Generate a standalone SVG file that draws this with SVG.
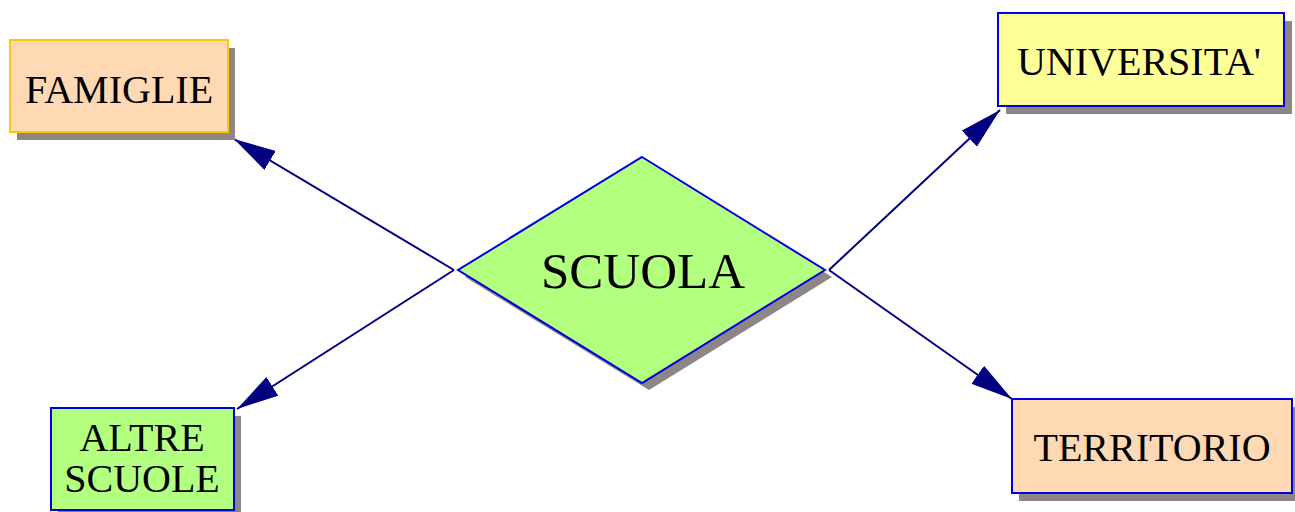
<svg xmlns="http://www.w3.org/2000/svg" width="1295" height="512" viewBox="0 0 1295 512">
<style>
.sh{fill:#8E8686;stroke:none}
.box{stroke-width:2}
.peach{fill:#FFD9B3}
.yellow{fill:#FFFF99}
.green{fill:#B3FF80}
.blue{stroke:#0000E0}
.gold{stroke:#FFC800}
.t{font-size:40px;fill:#000;text-anchor:middle}
.big{font-size:51px}
.con{stroke:#000080;stroke-width:2;fill:none}
</style>
<defs>
<marker id="ah" viewBox="0 0 42 22" refX="42" refY="11" markerWidth="42" markerHeight="22" markerUnits="userSpaceOnUse" orient="auto">
<path d="M0,0 L42,11 L0,22 z" fill="#000080"/>
</marker>
</defs>
<g id="connectors">
<line class="con" x1="454" y1="270" x2="234" y2="139" marker-end="url(#ah)"/>
<line class="con" x1="454" y1="270" x2="237" y2="409" marker-end="url(#ah)"/>
<line class="con" x1="829" y1="270" x2="1000" y2="110" marker-end="url(#ah)"/>
<line class="con" x1="829" y1="270" x2="1012" y2="399" marker-end="url(#ah)"/>
</g>
<g font-family="Liberation Serif, Times New Roman, Times, DejaVu Serif, serif">
<g id="famiglie">
<rect class="sh" x="17" y="48" width="218" height="92"/>
<rect class="box peach gold" x="10" y="40" width="218" height="92"/>
<text class="t" x="119" y="103">FAMIGLIE</text>
</g>
<g id="universita">
<rect class="sh" x="1006" y="21" width="286" height="93"/>
<rect class="box yellow blue" x="998" y="13" width="286" height="93"/>
<text class="t" x="1139" y="75">UNIVERSITA'</text>
</g>
<g id="altre-scuole">
<rect class="sh" x="58" y="416" width="183" height="102"/>
<rect class="box green blue" x="51" y="408" width="183" height="102"/>
<text class="t" x="142" y="451">ALTRE</text>
<text class="t" x="142" y="492">SCUOLE</text>
</g>
<g id="territorio">
<rect class="sh" x="1019" y="407" width="280" height="94"/>
<rect class="box peach blue" x="1012" y="399" width="280" height="94"/>
<text class="t" x="1152" y="461">TERRITORIO</text>
</g>
<g id="scuola">
<polygon class="sh" points="649,164 832,277 649,390 465,277"/>
<polygon class="box green blue" points="642,157 825,270 642,383 458,270"/>
<text class="t big" x="643" y="288">SCUOLA</text>
</g>
</g>
</svg>
